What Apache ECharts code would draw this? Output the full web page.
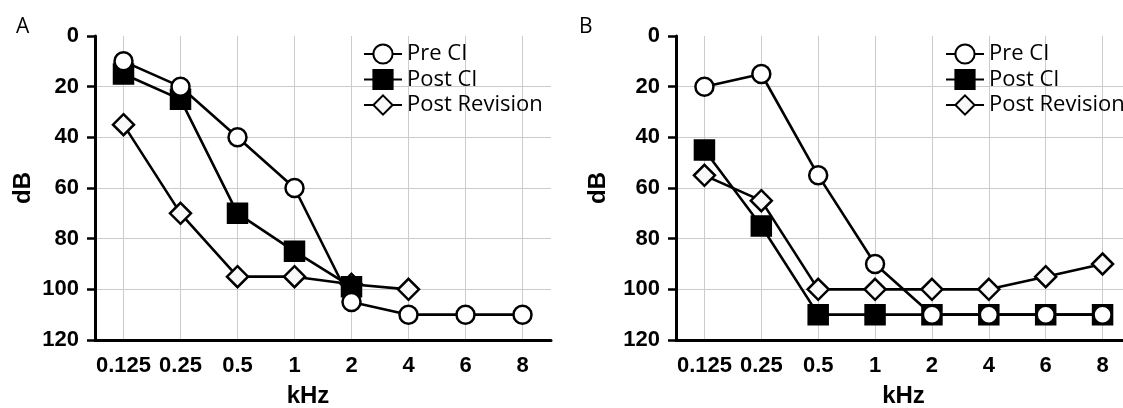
<!DOCTYPE html>
<html><head><meta charset="utf-8">
<script src="https://cdn.jsdelivr.net/npm/echarts@6/dist/echarts.min.js"></script>
<style>html,body{margin:0;padding:0;background:#fff}#c{width:1123px;height:408px}</style>
</head><body><div id="c"></div>
<script>
const categories = ['0.125','0.25','0.5','1','2','4','6','8'];
const yTicks = [0,20,40,60,80,100,120];
const seriesNames = ['Pre CI','Post CI','Post Revision'];
// Panel A
const aPreCI = [10, 20, 40, 60, 105, 110, 110, 110];
const aPostCI = [15, 25, 70, 85, 99, null, null, null];
const aPostRevision = [35, 70, 95, 95, 98, 100, null, null];
// Panel B
const bPreCI = [20, 15, 55, 90, 110, 110, 110, 110];
const bPostCI = [45, 75, 110, 110, 110, 110, 110, 110];
const bPostRevision = [55, 65, 100, 100, 100, 100, 95, 90];

const styles = {
  'Pre CI': {symbol:'circle', symbolSize:18, color:'#ffffff', z:4},
  'Post CI': {symbol:'rect', symbolSize:19, color:'#000000', z:3},
  'Post Revision': {symbol:'diamond', symbolSize:21, color:'#f8f8f8', z:2}
};
function mk(name, data, idx){
  const s = styles[name];
  return {
    name, type:'line', data, xAxisIndex:idx, yAxisIndex:idx,
    symbol:s.symbol, symbolSize:s.symbolSize, z:s.z, showSymbol:true,
    connectNulls:false, animation:false,
    lineStyle:{color:'#000', width:2.6},
    itemStyle:{color:s.color, borderColor:'#000', borderWidth:2.5}
  };
}
const font = 'Liberation Sans';
function xAx(idx, namePad){
  return {
    type:'category', gridIndex:idx, data:categories, boundaryGap:true,
    name:'kHz', nameLocation:'middle', nameGap:44,
    nameTextStyle:{fontFamily:font, fontWeight:'bold', fontSize:24, color:'#000', padding:namePad},
    axisLine:{onZero:false, lineStyle:{color:'#000', width:3}},
    axisTick:{alignWithLabel:true, length:10, lineStyle:{color:'#000', width:2.5}},
    axisLabel:{fontFamily:font, fontWeight:'bold', fontSize:22, color:'#000', margin:15, interval:0},
    splitLine:{show:true, alignWithLabel:true, lineStyle:{color:'#cccccc', width:1}}
  };
}
function yAx(idx, gap){
  return {
    type:'value', gridIndex:idx, inverse:true, min:yTicks[0], max:yTicks[yTicks.length-1], interval:20,
    name:'dB', nameLocation:'middle', nameGap:gap, nameRotate:90,
    nameTextStyle:{fontFamily:font, fontWeight:'bold', fontSize:24, color:'#000'},
    axisLine:{show:true, lineStyle:{color:'#000', width:3}},
    axisTick:{show:true, length:8, lineStyle:{color:'#000', width:2.5}},
    axisLabel:{fontFamily:font, fontWeight:'bold', fontSize:22, color:'#000', margin:16},
    splitLine:{show:true, showMinLine:false, lineStyle:{color:'#cccccc', width:1}}
  };
}
function legend(left){
  return {
    orient:'vertical', left, top:38, itemWidth:38, itemHeight:24, itemGap:3.5,
    data:seriesNames, selectedMode:false,
    textStyle:{fontFamily:'Open Sans', fontSize:22, color:'#000'}
  };
}
const chart = echarts.init(document.getElementById('c'), null, {renderer:'canvas'});
chart.setOption({
  animation:false,
  backgroundColor:'#fff',
  title:[
    {text:'A', left:11, top:12, textStyle:{fontFamily:'Open Sans', fontWeight:'normal', fontSize:21, color:'#000'}},
    {text:'B', left:574, top:12, textStyle:{fontFamily:'Open Sans', fontWeight:'normal', fontSize:21, color:'#000'}}
  ],
  legend:[legend(358), legend(940)],
  grid:[
    {left:95, top:36, width:456, height:304, containLabel:false, outerBoundsMode:'none'},
    {left:676, top:36, width:455, height:304, containLabel:false, outerBoundsMode:'none'}
  ],
  xAxis:[xAx(0, [0,30,0,0]), xAx(1, 0)],
  yAxis:[yAx(0, 60), yAx(1, 66)],
  series:[
    mk('Pre CI', aPreCI, 0), mk('Post CI', aPostCI, 0), mk('Post Revision', aPostRevision, 0),
    mk('Pre CI', bPreCI, 1), mk('Post CI', bPostCI, 1), mk('Post Revision', bPostRevision, 1)
  ]
});
</script></body></html>
